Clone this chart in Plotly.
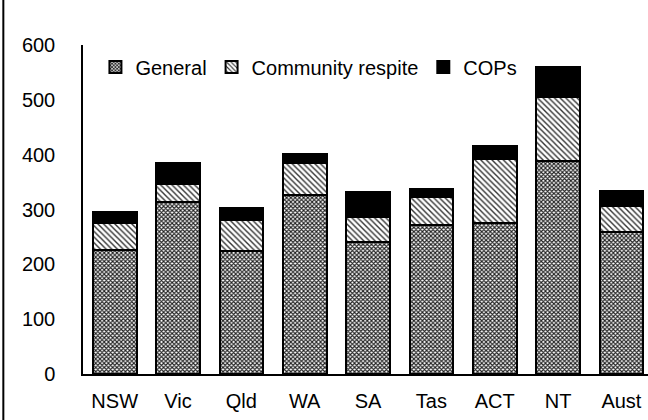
import plotly.graph_objects as go

states = ["NSW", "Vic", "Qld", "WA", "SA", "Tas", "ACT", "NT", "Aust"]
general = [226, 314, 224, 326, 241, 272, 276, 389, 259]
community_respite = [49, 32, 56, 58, 45, 51, 116, 117, 48]
cops = [21, 39, 22, 17, 46, 15, 24, 53, 27]
y_ticks = [0, 100, 200, 300, 400, 500, 600]

FONT = "Liberation Sans, Arial, sans-serif"

fig = go.Figure()
fig.add_trace(go.Bar(
    name="General", x=states, y=general,
    marker=dict(color="white", line=dict(color="black", width=2),
                pattern=dict(shape="x", size=3, solidity=0.6,
                             fgcolor="#222222", bgcolor="white", fillmode="replace")),
))
fig.add_trace(go.Bar(
    name="Community respite", x=states, y=community_respite,
    marker=dict(color="white", line=dict(color="black", width=2),
                pattern=dict(shape="\\", size=4, solidity=0.35,
                             fgcolor="#333333", bgcolor="white", fillmode="replace")),
))
fig.add_trace(go.Bar(
    name="COPs", x=states, y=cops,
    marker=dict(color="black", line=dict(color="black", width=2)),
))

fig.update_layout(
    width=648, height=420,
    barmode="stack", bargap=0.31,
    plot_bgcolor="white", paper_bgcolor="white",
    margin=dict(l=83, r=0, t=45, b=46, autoexpand=False),
    font=dict(family=FONT, size=20, color="black"),
    showlegend=True,
    legend=dict(orientation="h", x=0.022, y=0.933, xanchor="left", yanchor="middle",
                traceorder="normal", font=dict(size=20), bgcolor="rgba(0,0,0,0)",
                itemwidth=30),
    xaxis=dict(range=[-0.5, 8.42], showline=True, linecolor="black", linewidth=2,
               ticks="", showgrid=False, ticklabelstandoff=8, fixedrange=True,
               automargin=False),
    yaxis=dict(range=[0, 600], tickvals=y_ticks, showline=True, linecolor="black",
               linewidth=1.5, ticks="", showgrid=False, zeroline=False,
               ticklabelstandoff=22, fixedrange=True, automargin=False),
    shapes=[dict(type="line", xref="paper", yref="paper",
                 x0=-0.141, x1=-0.141, y0=-0.2, y1=1.2,
                 line=dict(color="black", width=2))],
)

fig.write_html("out.html", config={"displayModeBar": False},
               post_script="document.body.style.margin='0px';")
